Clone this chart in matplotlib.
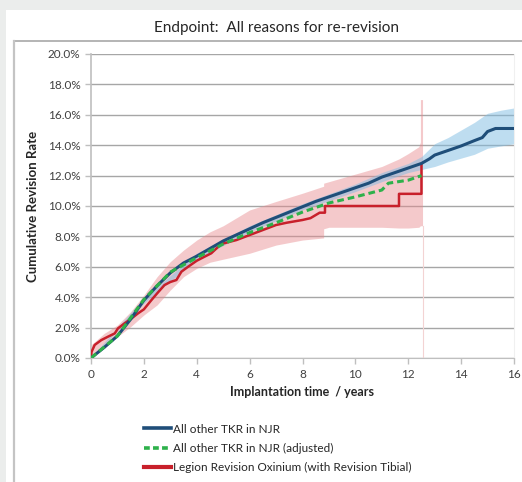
import numpy as np
import matplotlib.pyplot as plt
from matplotlib.lines import Line2D

plt.rcParams['font.family'] = ['Lato', 'DejaVu Sans']

# --- data (cumulative revision rate, %) ---
t_njr = [0, 0.5, 1, 1.5, 2, 2.5, 3, 3.5, 4, 4.5, 5, 5.5, 6, 6.5, 7, 7.5, 8, 8.5, 9, 9.5,
         10, 10.5, 11, 11.5, 12, 12.5, 12.8, 13, 13.5, 14, 14.5, 14.8, 15, 15.3, 16]
v_njr = [0, 0.7, 1.45, 2.55, 3.8, 4.75, 5.6, 6.25, 6.7, 7.2, 7.7, 8.1, 8.5, 8.9, 9.25, 9.6,
         9.95, 10.3, 10.6, 10.9, 11.2, 11.5, 11.9, 12.2, 12.5, 12.8, 13.1, 13.35, 13.65, 13.95,
         14.3, 14.5, 14.9, 15.1, 15.1]
t_njr_ci = [0, 2, 4, 6, 8, 10, 11, 12, 12.5, 13, 13.5, 14, 14.5, 15, 15.5, 16]
lo_njr = [0, 3.6, 6.5, 8.3, 9.75, 10.95, 11.6, 12.2, 12.4, 12.6, 12.9, 13.15, 13.4, 13.8, 13.95, 14.1]
hi_njr = [0.05, 3.95, 6.9, 8.7, 10.15, 11.45, 12.2, 12.8, 13.25, 14.1, 14.5, 15.0, 15.5, 16.1, 16.3, 16.45]

t_adj = [0, 1, 2, 3, 4, 5, 6, 7, 8, 9, 10, 11, 11.25, 12, 12.5]
v_adj = [0, 1.45, 3.85, 5.65, 6.6, 7.5, 8.25, 8.9, 9.6, 10.2, 10.6, 11.05, 11.5, 11.7, 12.0]

t_leg = [0, 0.02, 0.14, 0.39, 0.64, 0.9, 1.02, 1.27, 1.53, 1.78, 2.0, 2.28, 2.5, 2.78, 3.0,
         3.23, 3.42, 3.67, 4.0, 4.3, 4.55, 4.74, 4.93, 5.5, 6.0, 6.5, 7.0, 7.4, 8.0, 8.3,
         8.65, 8.85, 8.85, 11.65, 11.65, 12.5, 12.5]
v_leg = [0, 0.4, 0.86, 1.18, 1.4, 1.62, 1.95, 2.28, 2.6, 2.94, 3.2, 3.8, 4.25, 4.8, 5.0,
         5.13, 5.68, 6.0, 6.4, 6.67, 6.89, 7.2, 7.5, 7.76, 8.09, 8.42, 8.75, 8.9, 9.08, 9.2,
         9.56, 9.56, 10.0, 10.0, 10.8, 10.8, 12.7]
t_leg_ci = [0, 0.5, 1, 1.5, 2, 2.5, 3, 3.5, 4, 4.5, 5, 6, 7, 8, 8.8, 8.8, 9, 10, 11, 11.65,
            12, 12.4, 12.46, 12.46, 12.54]
hi_leg = [0.86, 1.62, 2.17, 3.05, 4.14, 5.35, 6.34, 7.1, 7.76, 8.3, 8.7, 9.74, 10.3, 10.84,
          11.3, 11.5, 11.6, 12.1, 12.6, 13.1, 13.45, 13.9, 14.2, 17.0, 17.0]
lo_leg = [0, 0.64, 1.4, 2.06, 2.83, 3.49, 4.47, 5.35, 5.9, 6.3, 6.5, 6.89, 7.43, 7.76, 7.9,
          8.5, 8.6, 8.6, 8.6, 8.55, 8.55, 8.6, 8.7, 8.7, 8.7]

labels = ['All other TKR in NJR', 'All other TKR in NJR (adjusted)',
          'Legion Revision Oxinium (with Revision Tibial)']
c_blue, c_green, c_red = '#1f4e79', '#2eb14b', '#c8202b'

fig = plt.figure(figsize=(5.22, 4.82), dpi=100)
fig.patch.set_facecolor('white')
# gray surround + frame
fig.add_artist(plt.Rectangle((0, 0), 6 / 522, 1, transform=fig.transFigure, color='#ebedec', lw=0))
fig.add_artist(plt.Rectangle((0, 1 - 10 / 482), 1, 10 / 482, transform=fig.transFigure, color='#ebedec', lw=0))
fig.add_artist(Line2D([14 / 522, 1], [1 - 41 / 482] * 2, transform=fig.transFigure, color='#a8a8a8', lw=1.2))
fig.add_artist(Line2D([14 / 522] * 2, [0, 1 - 41 / 482], transform=fig.transFigure, color='#c4c4c4', lw=1.6))

ax = fig.add_axes([91 / 522, 1 - 358 / 482, 423 / 522, 304 / 482])

ax.fill_between(t_leg_ci, lo_leg, hi_leg, color='#e8898d', alpha=0.45, lw=0)
ax.plot([t_leg_ci[-1]] * 2, [0, lo_leg[-1]], color='#f3d3d3', lw=0.8)
ax.fill_between(t_njr_ci, lo_njr, hi_njr, color='#7fbde3', alpha=0.5, lw=0)

ax.plot(t_njr, v_njr, color=c_blue, lw=2.2, zorder=4)
ax.plot(t_adj, v_adj, color=c_green, lw=2.2, ls=(0, (2.2, 1.3)), zorder=5)
ax.plot(t_leg, v_leg, color=c_red, lw=1.8, zorder=3)

ax.set_xlim(0, 16)
ax.set_ylim(0, 20)
ax.set_xticks(range(0, 17, 2))
yt = np.arange(0, 21, 2)
ax.set_yticks(yt)
ax.set_yticklabels([f'{v:.1f}%' for v in yt])
ax.grid(axis='y', color='#a6a6a6', lw=1)
ax.set_axisbelow(True)
ax.spines['top'].set_visible(False)
ax.spines['right'].set_color('#f0f0f0')
ax.spines['left'].set_color('#bfbfbf')
ax.spines['bottom'].set_color('#bfbfbf')
ax.spines['left'].set_linewidth(1.2)
ax.tick_params(colors='#bfbfbf', labelcolor='#404040', labelsize=8.5, length=4, width=1)
ax.tick_params(axis='x', pad=4)
ax.set_xlabel('Implantation time  / years', fontsize=9, fontweight='bold', color='#262626', labelpad=4)
ax.set_ylabel('Cumulative Revision Rate', fontsize=9.5, fontweight='bold', color='#262626', labelpad=6)
fig.text(276 / 522, 1 - 28 / 482, 'Endpoint:  All reasons for re-revision', ha='center', va='center',
         fontsize=11, color='#262626')

handles = [Line2D([], [], color=c_blue, lw=2.6),
           Line2D([], [], color=c_green, lw=2.6, ls=(0, (1.6, 0.9))),
           Line2D([], [], color=c_red, lw=3)]
fig.legend(handles, labels, loc='upper left', bbox_to_anchor=(133 / 522, 1 - 413 / 482),
           frameon=False, fontsize=8.5, handlelength=2.3, handletextpad=0.15, labelspacing=0.68,
           labelcolor='#262626')

fig.savefig('out.png', dpi=100)
